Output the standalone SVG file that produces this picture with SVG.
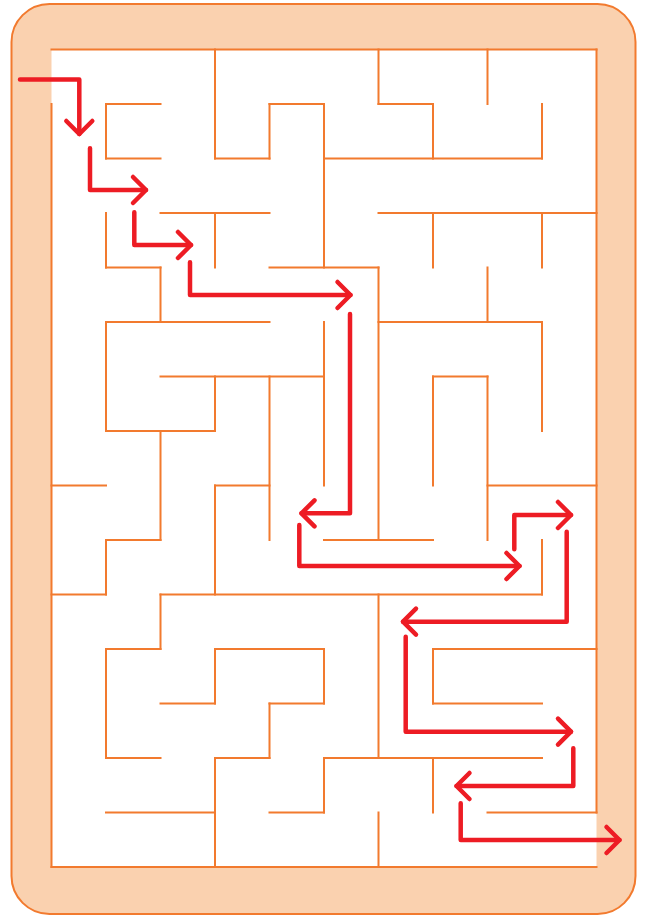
<svg xmlns="http://www.w3.org/2000/svg" width="645" height="915" viewBox="0 0 645 915">
<style>
.wall{fill:none;stroke:#F27A2E;stroke-width:2;stroke-linecap:square}
.route{fill:none;stroke:#ED1C24;stroke-width:4.5;stroke-linecap:round;stroke-linejoin:round}
</style>
<defs>
<marker id="head" viewBox="-18 -18 22 36" markerWidth="22" markerHeight="36" refX="0" refY="0" orient="auto" markerUnits="userSpaceOnUse">
<path d="M-13 -13L0 0L-13 13" fill="none" stroke="#ED1C24" stroke-width="4.5" stroke-linecap="round" stroke-linejoin="round"/>
</marker>
</defs>
<g id="frame">
<rect x="11.5" y="4" width="624" height="910" rx="38" fill="#FAD1AF" stroke="#F27A2E" stroke-width="2"/>
<rect x="51.5" y="49.5" width="545" height="817.5" fill="#FFFFFF"/>
</g>
<g id="walls" class="wall">
<path d="M51.5 49.5H596.5 M106 104H160.5 M269.5 104H324 M378.5 104H433 M106 158.5H160.5 M215 158.5H269.5 M324 158.5H542 M160.5 213H269.5 M378.5 213H596.5 M106 267.5H160.5 M269.5 267.5H378.5 M106 322H269.5 M378.5 322H542 M160.5 376.5H324 M433 376.5H487.5 M106 431H215 M51.5 485.5H106 M215 485.5H269.5 M487.5 485.5H596.5 M106 540H160.5 M324 540H433 M51.5 594.5H106 M160.5 594.5H542 M106 649H160.5 M215 649H324 M433 649H596.5 M160.5 703.5H215 M269.5 703.5H324 M433 703.5H542 M106 758H160.5 M215 758H269.5 M324 758H542 M106 812.5H215 M269.5 812.5H324 M487.5 812.5H596.5 M51.5 867H596.5"/>
<path d="M51.5 104V867 M106 104V158.5 M106 213V267.5 M106 322V431 M106 540V594.5 M106 649V758 M160.5 267.5V322 M160.5 431V540 M160.5 594.5V649 M215 49.5V158.5 M215 213V267.5 M215 376.5V431 M215 485.5V594.5 M215 649V703.5 M215 758V867 M269.5 104V158.5 M269.5 376.5V540 M269.5 703.5V758 M324 104V267.5 M324 322V485.5 M324 649V703.5 M324 758V812.5 M378.5 49.5V104 M378.5 267.5V540 M378.5 594.5V758 M378.5 812.5V867 M433 104V158.5 M433 213V267.5 M433 376.5V485.5 M433 649V703.5 M433 758V812.5 M487.5 49.5V104 M487.5 267.5V322 M487.5 376.5V540 M542 104V158.5 M542 213V267.5 M542 322V431 M542 540V594.5 M596.5 49.5V812.5"/>
</g>
<g id="route" class="route" marker-end="url(#head)">
<path d="M20 79.5H79.3V134"/>
<path d="M90 148.3V190H146"/>
<path d="M134.3 212.3V245H191"/>
<path d="M190 262.3V295H350.5"/>
<path d="M350 314V513.3H301.5"/>
<path d="M299.3 525V566H519.5"/>
<path d="M514.3 549.3V515H571"/>
<path d="M566.7 531.7V621.7H403"/>
<path d="M405.7 636.7V731.7H571"/>
<path d="M573.3 748.3V786H456.5"/>
<path d="M460.7 803.3V840H619.5"/>
</g>
</svg>
